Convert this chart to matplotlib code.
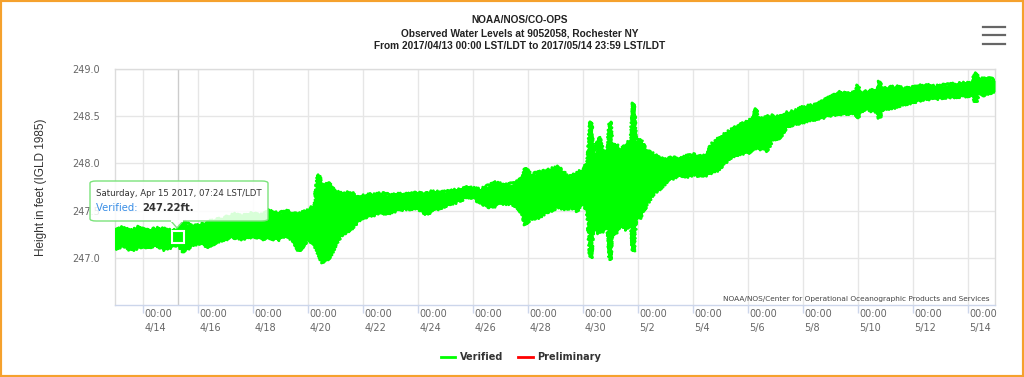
import matplotlib
matplotlib.use("Agg")
import matplotlib.pyplot as plt
import matplotlib.dates as mdates
import matplotlib.transforms as mtransforms
from matplotlib.patches import FancyBboxPatch, Polygon, Rectangle
from matplotlib.lines import Line2D
import pandas as pd
import numpy as np

# ---------------- data ----------------
start = "2017-04-13 00:00"
# days since start, lower and upper envelope of the observed water level (ft)
day_offsets = [0.0, 0.3, 0.6, 0.9, 1.2, 1.5, 1.8, 2.1, 2.3, 2.5, 2.8, 3.1, 3.4, 3.7,
               4.0, 4.3, 4.6, 5.0, 5.3, 5.6, 5.9, 6.2, 6.5, 6.7, 7.0, 7.25, 7.4, 7.55,
               7.75, 8.0, 8.2, 8.55, 8.8, 9.0, 9.35, 9.7, 10.0, 10.3, 10.65, 11.0, 11.3,
               11.5, 11.8, 12.1, 12.5, 12.8, 13.1, 13.3, 13.5, 13.7, 14.0, 14.3, 14.6,
               14.85, 14.92, 15.1, 15.4, 15.7, 16.1, 16.4, 16.6, 16.8, 17.0, 17.2, 17.3,
               17.4, 17.6, 17.8, 17.93, 18.0, 18.08, 18.2, 18.4, 18.6, 18.78, 18.85,
               18.92, 19.1, 19.3, 19.5, 19.75, 20.0, 20.25, 20.5, 20.75, 21.0, 21.25,
               21.5, 21.7, 21.9, 22.15, 22.4, 22.7, 23.0, 23.25, 23.3, 23.38, 23.5, 23.7,
               23.9, 24.2, 24.4, 24.7, 25.0, 25.3, 25.6, 25.9, 26.3, 26.6, 26.95, 27.0,
               27.08, 27.4, 27.6, 27.75, 27.8, 27.88, 28.1, 28.4, 28.7, 29.0, 29.25, 29.5,
               29.8, 30.0, 30.3, 30.6, 31.0, 31.2, 31.3, 31.38, 31.5, 31.8, 32.0]
level_low = [247.10, 247.13, 247.08, 247.12, 247.10, 247.14, 247.09, 247.12, 247.15, 247.06,
             247.14, 247.16, 247.12, 247.17, 247.20, 247.22, 247.20, 247.23, 247.20, 247.22,
             247.19, 247.24, 247.18, 247.07, 247.20, 247.15, 247.05, 246.95, 246.98, 247.12,
             247.24, 247.30, 247.38, 247.43, 247.45, 247.47, 247.48, 247.51, 247.52, 247.53,
             247.47, 247.49, 247.53, 247.56, 247.60, 247.65, 247.62, 247.59, 247.55, 247.54,
             247.57, 247.58, 247.55, 247.45, 247.35, 247.42, 247.43, 247.48, 247.54, 247.52,
             247.54, 247.50, 247.61, 247.45, 247.00, 247.40, 247.26, 247.30, 247.35, 246.98,
             247.35, 247.25, 247.37, 247.30, 247.40, 247.07, 247.40, 247.43, 247.55, 247.65,
             247.72, 247.79, 247.84, 247.88, 247.86, 247.88, 247.87, 247.88, 247.91, 247.93,
             248.00, 248.07, 248.10, 248.11, 248.17, 248.15, 248.20, 248.15, 248.14, 248.25,
             248.28, 248.39, 248.42, 248.44, 248.46, 248.48, 248.50, 248.53, 248.52, 248.55,
             248.48, 248.56, 248.57, 248.55, 248.55, 248.48, 248.58, 248.58, 248.60, 248.63,
             248.65, 248.67, 248.69, 248.68, 248.70, 248.70, 248.71, 248.72, 248.72, 248.65,
             248.73, 248.72, 248.74, 248.76]
level_high = [247.30, 247.32, 247.28, 247.33, 247.29, 247.31, 247.30, 247.28, 247.30, 247.38,
              247.33, 247.35, 247.38, 247.40, 247.42, 247.46, 247.44, 247.47, 247.45, 247.50,
              247.47, 247.49, 247.48, 247.46, 247.50, 247.55, 247.88, 247.72, 247.80, 247.70,
              247.68, 247.70, 247.64, 247.65, 247.67, 247.68, 247.66, 247.67, 247.67, 247.69,
              247.68, 247.70, 247.69, 247.70, 247.72, 247.74, 247.73, 247.72, 247.75, 247.80,
              247.78, 247.77, 247.80, 247.85, 247.95, 247.88, 247.90, 247.92, 247.96, 247.88,
              247.86, 247.90, 247.93, 248.00, 248.44, 248.05, 248.28, 248.05, 248.15, 248.44,
              248.10, 248.20, 248.14, 248.20, 248.25, 248.64, 248.25, 248.25, 248.15, 248.11,
              248.06, 248.04, 248.06, 248.04, 248.07, 248.09, 248.08, 248.07, 248.20, 248.25,
              248.30, 248.35, 248.40, 248.44, 248.48, 248.58, 248.48, 248.47, 248.49, 248.50,
              248.49, 248.53, 248.55, 248.59, 248.61, 248.64, 248.68, 248.75, 248.74, 248.75,
              248.83, 248.75, 248.76, 248.78, 248.78, 248.87, 248.78, 248.80, 248.81, 248.79,
              248.80, 248.82, 248.83, 248.81, 248.82, 248.83, 248.84, 248.85, 248.87, 248.96,
              248.88, 248.89, 248.90, 248.88]
tooltip_time = "2017-04-15 07:24"
tooltip_value = 247.22
tick_dates = pd.date_range("2017-04-14", "2017-05-14", freq="2D")
y_ticks = [247.0, 247.5, 248.0, 248.5, 249.0]
title_lines = ["NOAA/NOS/CO-OPS",
               "Observed Water Levels at 9052058, Rochester NY",
               "From 2017/04/13 00:00 LST/LDT to 2017/05/14 23:59 LST/LDT"]

# ---------------- figure ----------------
W, H = 1024, 377
fig = plt.figure(figsize=(W / 100, H / 100), dpi=100)
fig.patch.set_facecolor("white")

def fx(px):
    return px / W

def fy(py):
    return 1 - py / H

ax = fig.add_axes([fx(115), fy(305), fx(995) - fx(115), fy(69) - fy(305)])

times = pd.Timestamp(start) + pd.to_timedelta(day_offsets, unit="D")
t = mdates.date2num(times.to_pydatetime())
green = "#00ff00"
sk = (1.6, 2.0, 2.0)  # rendering jitter to imitate the noisy 6-min record
ax.fill_between(t, level_low, level_high, color=green, lw=0, zorder=3)
vl = ax.vlines(t, level_low, level_high, color=green, lw=1.6, zorder=3)
vl.set_sketch_params(*sk)
(hi_line,) = ax.plot(t, level_high, color=green, lw=2.0, zorder=3, label="Verified")
(lo_line,) = ax.plot(t, level_low, color=green, lw=2.0, zorder=3)
hi_line.set_sketch_params(*sk)
lo_line.set_sketch_params(*sk)
ax.plot([], [], color="#ff0000", lw=2, label="Preliminary")

x0 = mdates.date2num(pd.Timestamp("2017-04-13 00:00").to_pydatetime())
x1 = mdates.date2num(pd.Timestamp("2017-05-15 00:00").to_pydatetime())
ax.set_xlim(x0, x1)
ax.set_ylim(246.5, 249.0)

ax.set_yticks(y_ticks)
ax.set_yticklabels([f"{v:.1f}" for v in y_ticks])
ax.set_xticks(mdates.date2num(tick_dates.to_pydatetime()))
ax.set_xticklabels([f"00:00\n{d.month}/{d.day}" for d in tick_dates])

ax.grid(True, color="#e6e6e6", lw=1.0, zorder=0)
ax.set_axisbelow(True)
for s in ax.spines.values():
    s.set_color("#dcdcdc")
    s.set_linewidth(1.0)
ax.spines["bottom"].set_color("#ccd6eb")

ax.tick_params(axis="y", length=0, pad=11, labelsize=7, labelcolor="#666666")
ax.tick_params(axis="x", length=6, width=1, color="#ccd6eb", pad=-3,
               labelsize=7, labelcolor="#666666")
offset = mtransforms.ScaledTranslation(2 / 100, 0, fig.dpi_scale_trans)
for lab in ax.get_xticklabels():
    lab.set_horizontalalignment("left")
    lab.set_linespacing(1.45)
    lab.set_transform(lab.get_transform() + offset)

ax.set_ylabel("Height in feet (IGLD 1985)", fontsize=8.5, color="#333333",
              family="Liberation Sans")
ax.yaxis.set_label_coords(-0.077, 0.5)

# credit
ax.text(0.994, 0.012, "NOAA/NOS/Center for Operational Oceanographic Products and Services",
        transform=ax.transAxes, ha="right", va="bottom", fontsize=5.3, color="#444444")

# crosshair and marker
tt = mdates.date2num(pd.Timestamp(tooltip_time).to_pydatetime())
ax.axvline(tt, color="#cccccc", lw=1, zorder=2)
ax.plot([tt], [tooltip_value], marker="s", ms=8, mfc=green, mec="white", mew=1.5,
        zorder=6, clip_on=False)

# tooltip (figure pixel coordinates)
box = FancyBboxPatch((fx(90), fy(221)), fx(268) - fx(90), fy(181) - fy(221),
                     boxstyle="round,pad=0,rounding_size=0.006",
                     transform=fig.transFigure, facecolor=(1, 1, 1, 0.85),
                     edgecolor="#7be37b", lw=1.0, zorder=20)
fig.add_artist(box)
tri = Polygon([[fx(171), fy(221)], [fx(177), fy(228)], [fx(183), fy(221)]],
              closed=False, transform=fig.transFigure, facecolor=(1, 1, 1, 0.85),
              edgecolor="#7be37b", lw=1.0, zorder=21)
fig.add_artist(tri)
fig.add_artist(Line2D([fx(171.6), fx(182.4)], [fy(221), fy(221)], transform=fig.transFigure,
                      color="white", lw=1.4, zorder=22))
fig.text(fx(96), fy(193), "Saturday, Apr 15 2017, 07:24 LST/LDT", fontsize=6.2,
         color="#333333", va="center", ha="left", zorder=23)
fig.text(fx(96), fy(208), "Verified: ", fontsize=7.2, color="#3a8ee6",
         va="center", ha="left", zorder=23)
fig.text(fx(142), fy(208), f"{tooltip_value:.2f}ft.", fontsize=7.2, color="#333333",
         fontweight="bold", va="center", ha="left", zorder=23)

# title
for i, line in enumerate(title_lines):
    fig.text(fx(520), fy(20 + 13 * i), line, ha="center", va="center", fontsize=7.3,
             fontweight="bold", family="Liberation Sans", color="#222222")

# hamburger menu
for yy in (26.5, 35, 43.5):
    fig.add_artist(Line2D([fx(983), fx(1005)], [fy(yy), fy(yy)], transform=fig.transFigure,
                          color="#666666", lw=1.6))

# legend
leg = fig.legend(loc="center", bbox_to_anchor=(fx(521), fy(357)), ncol=2, frameon=False,
                 handlelength=1.5, handletextpad=0.5, columnspacing=1.5,
                 prop={"weight": "bold", "size": 7})
for txt in leg.get_texts():
    txt.set_color("#333333")
for h in leg.legend_handles:
    h.set_linewidth(2)
    h.set_sketch_params(None)

# orange frame
fig.add_artist(Rectangle((0, 0), 1, 1, transform=fig.transFigure, fill=False,
                         edgecolor="#f5a12d", lw=3, zorder=30))

fig.savefig("out.png", dpi=100)
